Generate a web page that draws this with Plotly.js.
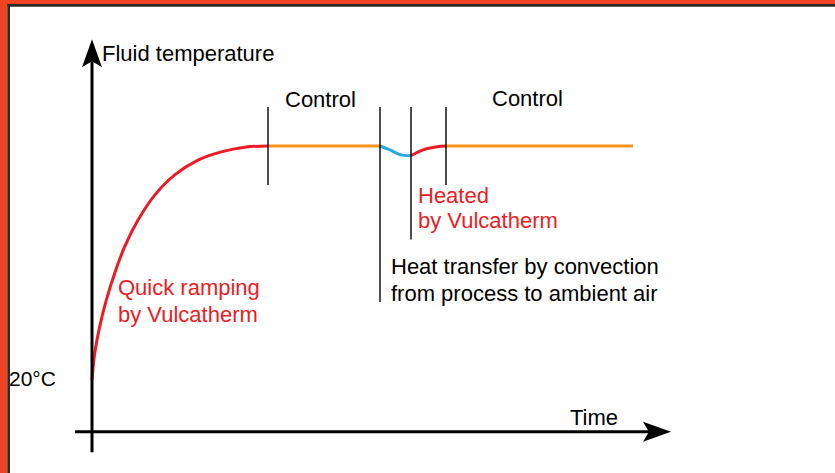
<!DOCTYPE html>
<html><head><meta charset="utf-8">
<script src="https://cdn.plot.ly/plotly-3.0.1.min.js"></script>
<style>html,body{margin:0;padding:0;background:#fff;overflow:hidden}#chart{width:835px;height:473px}</style>
</head><body><div id="chart"></div>
<script>
// Schematic: fluid temperature (°C) against time (arbitrary units)
const rampTime = [0, 2.7, 7.7, 14.3, 22.7, 32.7, 46, 62.7, 82.7, 106, 129.3, 152.7, 176];
const rampTemp = [20, 26.8, 33.7, 40.5, 47.4, 54.2, 61.0, 67.4, 72.6, 76.4, 78.5, 79.7, 80];
const control1Time = [176, 288];
const control1Temp = [80, 80];
const coolTime = [288, 298, 308, 319];
const coolTemp = [80, 79.0, 77.8, 77.5];
const reheatTime = [319, 331, 345, 354];
const reheatTemp = [77.5, 79.0, 79.8, 80];
const control2Time = [354, 541];
const control2Temp = [80, 80];
const phaseBoundaryTime = [176, 288, 319, 354];
const phaseBoundaryTop = [90, 90, 90, 90];
const phaseBoundaryBottom = [70, 40, 56, 70];
const timeAxisExtent = [-17, 579];
const tempAxisExtent = [1.5, 107.4];
const timeAxisAtTemp = 6.7;
const startTemp = 20;
const startLabel = '20°C';
const yAxisLabel = 'Fluid temperature';
const xAxisLabel = 'Time';

const RED = '#ec1c24', ORANGE = '#f7941d', BLUE = '#27aae1', INK = '#000000';
const FONT = '"Liberation Sans", Arial, Helvetica, sans-serif';
const W = 835, H = 473;
const xRange = [-92, 743];
const yRange = [-3.846, 117.436];
const pxPerTemp = H / (yRange[1] - yRange[0]);
const pxPerTime = W / (xRange[1] - xRange[0]);
const headLen = 22;

function seg(xs, ys, color, width) {
  return {x: xs, y: ys, mode: 'lines', type: 'scatter', hoverinfo: 'skip',
    line: {color: color, width: width, shape: 'spline', smoothing: 1}};
}
const bx = [], by = [];
phaseBoundaryTime.forEach((t, i) => { bx.push(t, t, null); by.push(phaseBoundaryBottom[i], phaseBoundaryTop[i], null); });

const traces = [
  seg(rampTime, rampTemp, RED, 3),
  seg(control1Time, control1Temp, ORANGE, 3),
  seg(coolTime, coolTemp, BLUE, 3),
  seg(reheatTime, reheatTemp, RED, 3),
  seg(control2Time, control2Temp, ORANGE, 3),
  {x: bx, y: by, mode: 'lines', type: 'scatter', hoverinfo: 'skip', line: {color: INK, width: 1.4}},
  // axes
  {x: [timeAxisExtent[0], timeAxisExtent[1] - headLen / pxPerTime], y: [timeAxisAtTemp, timeAxisAtTemp],
   mode: 'lines', type: 'scatter', hoverinfo: 'skip', line: {color: INK, width: 3}},
  {x: [0, 0], y: [tempAxisExtent[0], tempAxisExtent[1] - headLen / pxPerTemp],
   mode: 'lines', type: 'scatter', hoverinfo: 'skip', line: {color: INK, width: 3}}
];

function ann(text, x, y, color, xanchor, size) {
  return {text: text, x: x, y: y, xref: 'x', yref: 'y', showarrow: false,
    xanchor: xanchor || 'left', yanchor: 'middle',
    font: {family: FONT, size: size || 22, color: color || INK}};
}
const annotations = [
  ann(yAxisLabel, 8, 103.8),
  ann('Control', 191, 91.8),
  ann('Control', 398, 92.2),
  ann('Heated', 324, 67.4, RED),
  ann('by Vulcatherm', 324, 60.8, RED),
  ann('Heat transfer by convection', 297, 49.0),
  ann('from process to ambient air', 297, 42.3),
  ann('Quick ramping', 24, 43.6, RED),
  ann('by Vulcatherm', 24, 36.7, RED),
  ann(xAxisLabel, 476, 10.3),
  ann(startLabel, -34, startTemp + 0.4, INK, 'right', 21)
];

const shapes = [
  {type: 'rect', xref: 'paper', yref: 'paper', x0: 0, x1: 7.3 / W, y0: 0, y1: 1, fillcolor: '#ee4423', line: {width: 0}},
  {type: 'rect', xref: 'paper', yref: 'paper', x0: 0, x1: 1, y0: 1 - 4 / H, y1: 1, fillcolor: '#ee4423', line: {width: 0}},
  {type: 'rect', xref: 'paper', yref: 'paper', x0: 7.3 / W, x1: 10 / W, y0: 0, y1: 1 - 4 / H, fillcolor: '#2e2a2a', line: {width: 0}},
  {type: 'rect', xref: 'paper', yref: 'paper', x0: 7.3 / W, x1: 1, y0: 1 - 6.7 / H, y1: 1 - 4 / H, fillcolor: '#2e2a2a', line: {width: 0}},
  // arrowheads
  {type: 'path', xref: 'x', yref: 'y', xsizemode: 'pixel', ysizemode: 'pixel',
   xanchor: timeAxisExtent[1], yanchor: timeAxisAtTemp,
   path: 'M0,0 L-28,10 L-' + headLen + ',0 L-28,-10 Z', fillcolor: INK, line: {width: 0}},
  {type: 'path', xref: 'x', yref: 'y', xsizemode: 'pixel', ysizemode: 'pixel',
   xanchor: 0, yanchor: tempAxisExtent[1],
   path: 'M0,0 L-10,-28 L0,-' + headLen + ' L10,-28 Z', fillcolor: INK, line: {width: 0}}
];

const layout = {
  width: W, height: H, margin: {l: 0, r: 0, t: 0, b: 0},
  paper_bgcolor: '#ffffff', plot_bgcolor: '#ffffff', showlegend: false,
  xaxis: {range: xRange, visible: false, fixedrange: true},
  yaxis: {range: yRange, visible: false, fixedrange: true},
  annotations: annotations, shapes: shapes
};
Plotly.newPlot('chart', traces, layout, {displayModeBar: false, staticPlot: true});
</script></body></html>
